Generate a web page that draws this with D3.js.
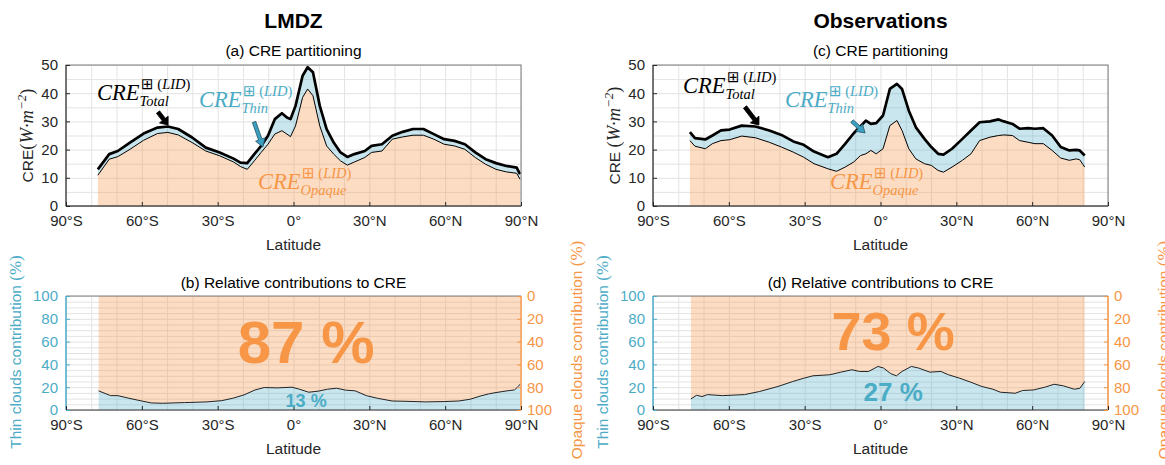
<!DOCTYPE html>
<html><head><meta charset="utf-8">
<script src="https://cdn.jsdelivr.net/npm/d3@7"></script>
<style>
body{margin:0;background:#fff}
svg{font-family:"Liberation Sans",Arial,Helvetica,sans-serif}
</style>
</head><body>
<svg id="c" width="1165" height="465"></svg>
<script>
// ---------------- DATA ----------------
const panelTitles = ["LMDZ", "Observations"];
const topTitles = ["(a) CRE partitioning", "(c) CRE partitioning"];
const botTitles = ["(b) Relative contributions to CRE", "(d) Relative contributions to CRE"];
const latTicks = [-90, -60, -30, 0, 30, 60, 90];
const latTickLabels = ["90°S", "60°S", "30°S", "0°", "30°N", "60°N", "90°N"];
const creTicks = [0, 10, 20, 30, 40, 50];
const pctTicks = [0, 20, 40, 60, 80, 100];
const opaqueShare = ["87 %", "73 %"];
const thinShare = ["13 %", "27 %"];

// LMDZ CRE (W m-2)
const lmdzLat = [-77.4,-72.9,-69.5,-64.7,-59.3,-53.8,-49.7,-45.6,-40.1,-34.7,-29.2,-23.7,-21,-18.3,-15.5,-12.8,-10.1,-7.4,-4.6,-2.6,-1.2,0.8,3.6,5.6,7.7,10.4,13.1,15.9,18.6,21.3,24.1,28.2,30.9,35,39.1,43.2,47.3,51.4,55.5,59.6,63.7,67.8,71.9,76,80.1,84.2,88.3,89.6];
const lmdzTotal = [13.0,18.4,19.5,22.5,25.7,27.8,28.2,27.3,24.3,20.7,19.0,16.8,15.4,15.2,18.4,21.3,24.9,30.8,32.9,31.4,30.8,35.5,46.2,49.2,47.4,35.5,27.3,22.5,19.0,17.4,18.4,19.5,21.3,21.9,24.9,26.3,27.3,27.3,25.5,23.7,23.1,21.9,19.0,16.6,15.2,14.2,13.6,11.3];
const lmdzOpaque = [10.9,16.6,17.5,20.1,23.3,25.7,26.1,25.2,22.5,19.5,17.8,15.6,14.0,13.0,16.0,19.0,21.9,25.5,26.7,25.5,24.6,28.4,38.5,41.5,39.1,28.4,21.3,18.4,16.0,14.5,15.6,17.2,19.0,19.5,23.7,24.5,25.1,25.1,23.7,21.9,21.3,20.1,17.2,14.8,13.0,12.1,11.6,9.5];

// Observations CRE (W m-2)
const obsLat = [-75.4,-73.4,-69.3,-66.5,-63.1,-59.7,-54.9,-49.5,-44,-39.2,-34.5,-30.4,-26.3,-20.8,-17.4,-14,-10.6,-7.9,-5.8,-3.8,-1.7,1,3.7,6.5,8.5,11.2,14,17.4,20.1,22.8,24.9,28.3,32.4,35.8,39.2,43.3,46.7,48.8,52.2,55,58.4,61.1,64.4,67.9,71.3,74.7,77.4,78.8,80.8];
const obsTotal = [26.2,24.1,23.6,25.0,26.8,27.1,28.5,28.2,26.8,25.2,22.9,21.7,19.3,17.3,18.5,22.0,25.8,28.3,30.3,29.1,29.4,32.1,41.5,43.3,41.5,33.8,27.9,23.8,20.9,18.5,18.2,20.3,23.8,26.8,29.7,30.0,30.7,30.0,29.1,27.4,27.6,27.4,27.6,25.0,20.9,19.7,19.9,19.7,17.9];
const obsOpaque = [23.2,21.2,20.3,22.1,23.2,23.5,24.8,24.2,22.6,20.9,19.1,17.3,15.0,13.2,12.3,13.8,15.6,17.9,18.5,19.7,18.5,20.3,28.5,30.3,26.8,20.3,16.7,15.0,14.4,12.6,12.0,13.8,16.2,18.5,23.2,24.4,25.0,25.2,25.0,23.2,22.6,22.1,22.1,19.7,17.0,16.2,16.7,16.4,13.8];

// Thin-cloud relative contribution (%)
const lmdzPctLat = [-77.1,-72.4,-69.5,-65.1,-60.7,-56.3,-51.9,-43.1,-34.3,-28.4,-24,-19.6,-15.2,-11.6,-6.4,-0.6,2.4,6,9.7,13.4,17,20.7,24.4,28.8,33.2,39,44.9,52.2,59.6,65.4,69.8,74.2,77.2,80.1,84.5,87.4,88.9,89.6];
const lmdzThinPct = [16.8,12.6,12.6,10.3,8.2,6.2,5.9,6.5,7.1,8.2,10.3,13.2,17.6,19.7,19.4,20.0,18.2,15.6,16.5,18.2,19.1,17.4,16.8,12.6,10.3,7.9,7.6,7.1,7.4,7.9,9.4,12.4,14.1,15.3,16.8,17.6,20.6,22.6];
const obsPctLat = [-75,-72.8,-70.6,-68.4,-62.6,-53.8,-47.9,-40.6,-34.7,-30.3,-26.7,-20.1,-15.7,-11.3,-8.3,-4.7,-1,1.2,4.1,6.3,8.5,12.2,15.1,19.5,23.9,26.9,31.3,35.7,40.1,44.5,47.4,53.3,56.2,60.6,65,68.7,72.3,76.7,78.9,80.8];
const obsThinPct = [9.7,12.9,11.8,13.5,12.6,13.5,16.2,20.6,25.0,27.9,30.0,30.9,33.2,35.3,33.8,33.8,38.2,36.8,31.8,30.0,33.8,38.2,36.8,33.2,33.8,30.9,27.9,24.4,20.6,18.2,15.6,14.7,17.1,17.6,20.0,22.6,21.2,18.2,19.1,25.0];

// annotation anchors (lat, CRE value)
const annTotal = [[-77.7, 37.6], [-78.1, 40.1]];
const annThin = [[-37.4, 35.1], [-37.8, 35.1]];
const annOpaque = [[-14.0, 6.0], [-20.0, 6.0]];
const arrowTotal = [[[-53.6, 33.3], [-49.6, 28.7]], [[-53.6, 35.1], [-48.1, 28.7]]];
const arrowThin = [[[-15.6, 29.8], [-12.1, 20.9]], [[-11.3, 30.1], [-6.1, 25.9]]];

// ---------------- STYLE / LAYOUT ----------------
const svg = d3.select("#c");
const W = 455;
const panelX = [66, 653];
const TOP = [65, 206], BOT = [296, 410];
const BLUE = "#4bacc6", ORANGE = "#f79646";
const BLUEFILL = "rgba(75,172,198,0.30)", ORFILL = "rgba(247,150,70,0.32)";
const TXT = "#262626", GRID = "#e3e3e3", BOX = "#7a7a7a";
const serif = "'Liberation Serif','DejaVu Serif',serif";

function mathLabel(g, px, py, sub, color) {
  const t = g.append("text").attr("x", px).attr("y", py)
    .attr("font-family", serif).attr("font-style", "italic")
    .attr("font-size", 22.5).attr("fill", color).text("CRE");
  const w = t.node().getComputedTextLength();
  const s = g.append("text").attr("x", px + w + 1.5).attr("y", py - 11)
    .attr("font-size", 14.5).attr("fill", color);
  s.append("tspan").attr("font-family", "'DejaVu Sans',sans-serif").attr("font-size", 15).text("⊞");
  s.append("tspan").attr("font-family", serif).text(" (");
  s.append("tspan").attr("font-family", serif).attr("font-style", "italic").text("LID");
  s.append("tspan").attr("font-family", serif).text(")");
  g.append("text").attr("x", px + w).attr("y", py + 6)
    .attr("font-family", serif).attr("font-style", "italic")
    .attr("font-size", 14.5).attr("fill", color).text(sub);
}

function arrow(g, p0, p1, fill, stroke, sw, hw, hl) {
  const dx = p1[0] - p0[0], dy = p1[1] - p0[1];
  const L = Math.hypot(dx, dy), ux = dx / L, uy = dy / L, nx = -uy, ny = ux;
  const bx = p1[0] - ux * hl, by = p1[1] - uy * hl;
  const pts = [
    [p0[0] + nx * sw, p0[1] + ny * sw], [bx + nx * sw, by + ny * sw], [bx + nx * hw, by + ny * hw],
    p1, [bx - nx * hw, by - ny * hw], [bx - nx * sw, by - ny * sw], [p0[0] - nx * sw, p0[1] - ny * sw]];
  g.append("path").attr("d", "M" + pts.map(p => p.join(",")).join("L") + "Z")
    .attr("fill", fill).attr("stroke", stroke).attr("stroke-width", 0.8).attr("stroke-linejoin", "round");
}

function styleAxis(sel, color) {
  sel.select(".domain").remove();
  sel.selectAll("text").attr("font-size", 15).attr("fill", color);
  sel.selectAll("line").attr("stroke", color);
  sel.attr("font-family", null);
}

function panel(i, lat, tot, op, pLat, pct) {
  const x0 = panelX[i], x1 = x0 + W, cx = (x0 + x1) / 2;
  const x = d3.scaleLinear().domain([-90, 90]).range([x0, x1]);
  const yT = d3.scaleLinear().domain([0, 50]).range([TOP[1], TOP[0]]);
  const yB = d3.scaleLinear().domain([0, 100]).range([BOT[1], BOT[0]]);
  const yBR = d3.scaleLinear().domain([100, 0]).range([BOT[1], BOT[0]]);
  const g = svg.append("g");

  g.append("text").attr("x", cx).attr("y", 28).attr("text-anchor", "middle")
    .attr("font-size", 21).attr("font-weight", "bold").attr("fill", "#000").text(panelTitles[i]);

  // ---------- TOP ----------
  const gt = g.append("g");
  gt.append("g").attr("transform", `translate(0,${TOP[1]})`)
    .call(d3.axisBottom(x).tickValues(d3.range(-90, 91, 10)).tickSize(-(TOP[1] - TOP[0])).tickFormat(""))
    .call(s => { s.select(".domain").remove(); s.selectAll("line").attr("stroke", GRID); });
  gt.append("g").attr("transform", `translate(${x0},0)`)
    .call(d3.axisLeft(yT).tickValues(d3.range(0, 51, 5)).tickSize(-W).tickFormat(""))
    .call(s => { s.select(".domain").remove(); s.selectAll("line").attr("stroke", GRID); });

  const data = lat.map((l, k) => ({ lat: l, tot: tot[k], op: op[k] }));
  gt.append("path").datum(data).attr("fill", ORFILL)
    .attr("d", d3.area().x(d => x(d.lat)).y0(yT(0)).y1(d => yT(d.op)));
  gt.append("path").datum(data).attr("fill", BLUEFILL)
    .attr("d", d3.area().x(d => x(d.lat)).y0(d => yT(d.op)).y1(d => yT(d.tot)));
  gt.append("path").datum(data).attr("fill", "none").attr("stroke", "#000").attr("stroke-width", 1)
    .attr("d", d3.line().x(d => x(d.lat)).y(d => yT(d.op)));
  gt.append("path").datum(data).attr("fill", "none").attr("stroke", "#000").attr("stroke-width", 2.7)
    .attr("stroke-linejoin", "round")
    .attr("d", d3.line().x(d => x(d.lat)).y(d => yT(d.tot)));

  gt.append("rect").attr("x", x0).attr("y", TOP[0]).attr("width", W).attr("height", TOP[1] - TOP[0])
    .attr("fill", "none").attr("stroke", BOX).attr("stroke-width", 1);
  gt.append("line").attr("x1", x0).attr("x2", x1).attr("y1", TOP[1]).attr("y2", TOP[1]).attr("stroke", "#333");
  gt.append("line").attr("x1", x0).attr("x2", x0).attr("y1", TOP[0]).attr("y2", TOP[1]).attr("stroke", "#333");

  gt.append("g").attr("transform", `translate(0,${TOP[1]})`)
    .call(d3.axisBottom(x).tickValues(latTicks).tickFormat((d, k) => latTickLabels[k]).tickSizeInner(-4).tickSizeOuter(0).tickPadding(9))
    .call(s => styleAxis(s, TXT));
  gt.append("g").attr("transform", `translate(${x0},0)`)
    .call(d3.axisLeft(yT).tickValues(creTicks).tickSizeInner(-4).tickSizeOuter(0).tickPadding(8))
    .call(s => styleAxis(s, TXT));

  gt.append("text").attr("x", cx).attr("y", 56).attr("text-anchor", "middle")
    .attr("font-size", 15.5).attr("fill", "#000").text(topTitles[i]);
  gt.append("text").attr("x", cx).attr("y", 250).attr("text-anchor", "middle")
    .attr("font-size", 15.5).attr("fill", TXT).text("Latitude");

  const yl = gt.append("text").attr("transform", `translate(${x0 - 33},${(TOP[0] + TOP[1]) / 2}) rotate(-90)`)
    .attr("text-anchor", "middle").attr("font-size", 15.5).attr("fill", TXT);
  yl.append("tspan").text(i === 0 ? "CRE" : "CRE ");
  yl.append("tspan").attr("font-family", serif).attr("font-size", 18.5).text("(");
  yl.append("tspan").attr("font-family", serif).attr("font-size", 18.5).attr("font-style", "italic").text("W·m");
  yl.append("tspan").attr("font-family", serif).attr("font-size", 13).attr("font-style", "italic").attr("dy", -7).text("−2");
  yl.append("tspan").attr("font-family", serif).attr("font-size", 18.5).attr("dy", 7).text(")");

  // annotations
  mathLabel(gt, x(annTotal[i][0]), yT(annTotal[i][1]), "Total", "#000");
  mathLabel(gt, x(annThin[i][0]), yT(annThin[i][1]), "Thin", BLUE);
  mathLabel(gt, x(annOpaque[i][0]), yT(annOpaque[i][1]), "Opaque", ORANGE);
  const P = p => [x(p[0]), yT(p[1])];
  arrow(gt, P(arrowTotal[i][0]), P(arrowTotal[i][1]), "#000", "#000", 2, 5.5, 7);
  arrow(gt, P(arrowThin[i][0]), P(arrowThin[i][1]), "#3d9fbf", "#1f5566", 1.8, 5, 8);

  // ---------- BOTTOM ----------
  const gb = g.append("g");
  gb.append("g").attr("transform", `translate(0,${BOT[1]})`)
    .call(d3.axisBottom(x).tickValues(d3.range(-90, 91, 10)).tickSize(-(BOT[1] - BOT[0])).tickFormat(""))
    .call(s => { s.select(".domain").remove(); s.selectAll("line").attr("stroke", GRID); });
  gb.append("g").attr("transform", `translate(${x0},0)`)
    .call(d3.axisLeft(yB).tickValues(d3.range(0, 101, 5)).tickSize(-W).tickFormat(""))
    .call(s => { s.select(".domain").remove(); s.selectAll("line").attr("stroke", GRID); });

  const pd = pLat.map((l, k) => ({ lat: l, p: pct[k] }));
  gb.append("path").datum(pd).attr("fill", ORFILL)
    .attr("d", d3.area().x(d => x(d.lat)).y0(yB(100)).y1(d => yB(d.p)));
  gb.append("path").datum(pd).attr("fill", BLUEFILL)
    .attr("d", d3.area().x(d => x(d.lat)).y0(yB(0)).y1(d => yB(d.p)));
  gb.append("path").datum(pd).attr("fill", "none").attr("stroke", "#222").attr("stroke-width", 1)
    .attr("d", d3.line().x(d => x(d.lat)).y(d => yB(d.p)));

  gb.append("line").attr("x1", x0).attr("x2", x1).attr("y1", BOT[0]).attr("y2", BOT[0]).attr("stroke", BOX);
  gb.append("line").attr("x1", x0).attr("x2", x1).attr("y1", BOT[1]).attr("y2", BOT[1]).attr("stroke", "#333");
  gb.append("line").attr("x1", x0).attr("x2", x0).attr("y1", BOT[0]).attr("y2", BOT[1]).attr("stroke", BLUE).attr("stroke-width", 1.5);
  gb.append("line").attr("x1", x1).attr("x2", x1).attr("y1", BOT[0]).attr("y2", BOT[1]).attr("stroke", ORANGE).attr("stroke-width", 1.5);

  gb.append("g").attr("transform", `translate(0,${BOT[1]})`)
    .call(d3.axisBottom(x).tickValues(latTicks).tickFormat((d, k) => latTickLabels[k]).tickSizeInner(-4).tickSizeOuter(0).tickPadding(9))
    .call(s => styleAxis(s, TXT));
  gb.append("g").attr("transform", `translate(${x0},0)`)
    .call(d3.axisLeft(yB).tickValues(pctTicks).tickSizeInner(-4).tickSizeOuter(0).tickPadding(8))
    .call(s => styleAxis(s, BLUE));
  gb.append("g").attr("transform", `translate(${x1},0)`)
    .call(d3.axisRight(yBR).tickValues(pctTicks).tickSizeInner(-4).tickSizeOuter(0).tickPadding(6))
    .call(s => styleAxis(s, ORANGE));

  gb.append("text").attr("x", cx).attr("y", 288).attr("text-anchor", "middle")
    .attr("font-size", 15.5).attr("fill", "#000").text(botTitles[i]);
  gb.append("text").attr("x", cx).attr("y", 454).attr("text-anchor", "middle")
    .attr("font-size", 15.5).attr("fill", TXT).text("Latitude");

  const lt = gb.append("text").attr("transform", `translate(${x0 - 45},${(BOT[0] + BOT[1]) / 2 - 1}) rotate(-90)`)
    .attr("text-anchor", "middle").attr("font-size", 15.5).attr("fill", BLUE);
  lt.append("tspan").text("Thin clouds contribution ");
  lt.append("tspan").attr("font-family", serif).attr("font-size", 17).text("(%)");
  const rt = gb.append("text").attr("transform", `translate(${x1 + 61},${(BOT[0] + BOT[1]) / 2 - 3}) rotate(-90)`)
    .attr("text-anchor", "middle").attr("font-size", 15.5).attr("fill", ORANGE);
  rt.append("tspan").text("Opaque clouds contribution ");
  rt.append("tspan").attr("font-family", serif).attr("font-size", 17).text("(%)");

  gb.append("text").attr("x", x(5)).attr("y", i === 0 ? 363 : 350).attr("text-anchor", "middle")
    .attr("font-size", i === 0 ? 60 : 54).attr("font-weight", "bold").attr("fill", ORANGE).text(opaqueShare[i]);
  gb.append("text").attr("x", x(5)).attr("y", i === 0 ? 407 : 401).attr("text-anchor", "middle")
    .attr("font-size", i === 0 ? 18 : 26).attr("font-weight", "bold").attr("fill", BLUE).text(thinShare[i]);
}

panel(0, lmdzLat, lmdzTotal, lmdzOpaque, lmdzPctLat, lmdzThinPct);
panel(1, obsLat, obsTotal, obsOpaque, obsPctLat, obsThinPct);
</script>
</body></html>
